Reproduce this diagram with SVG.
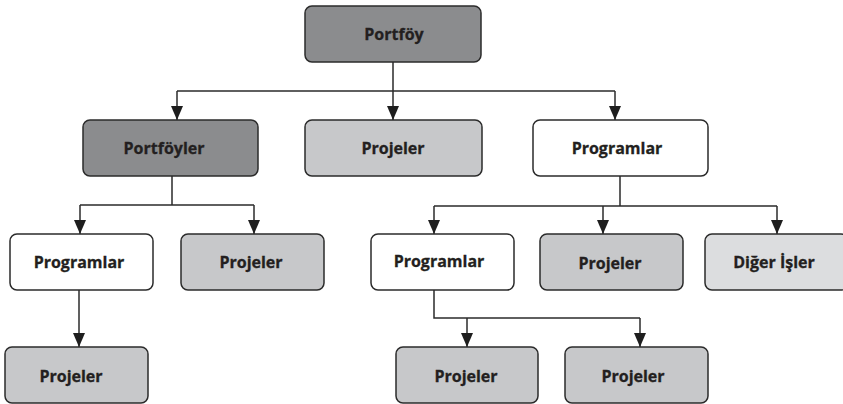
<svg xmlns="http://www.w3.org/2000/svg" width="843" height="404" viewBox="0 0 843 404">
  <style>
    .box { stroke: #2b2b2b; stroke-width: 1.5; }
    .dark { fill: #8b8c8e; }
    .light { fill: #c7c8ca; }
    .pale { fill: #dcdddf; }
    .white { fill: #ffffff; }
    .label { font-family: "Open Sans", "Liberation Sans", sans-serif; font-weight: bold; font-size: 16px; fill: #231f20; stroke: #231f20; stroke-width: 0.3; text-anchor: middle; dominant-baseline: central; }
    .wire { fill: none; stroke: #2b2b2b; stroke-width: 1.5; }
    .arrow { marker-end: url(#head); }
  </style>
  <defs>
    <!-- filled triangular arrowhead, tip on the end of the line -->
    <marker id="head" markerUnits="userSpaceOnUse" markerWidth="14" markerHeight="12" refX="14" refY="6" orient="auto" viewBox="0 0 14 12">
      <path d="M0,0 L14,6 L0,12 Z" fill="#1e1e1e"/>
    </marker>
  </defs>

  <g id="connectors">
    <path class="wire" d="M393,62 V91 M177,91 H615"/>
    <path class="wire arrow" d="M177,91 V120"/>
    <path class="wire arrow" d="M393,91 V120"/>
    <path class="wire arrow" d="M615,91 V120"/>

    <path class="wire" d="M172,176 V205 M80,205 H254"/>
    <path class="wire arrow" d="M80,205 V234"/>
    <path class="wire arrow" d="M254,205 V234"/>

    <path class="wire" d="M620,176 V206 M434,206 H777"/>
    <path class="wire arrow" d="M434,206 V234"/>
    <path class="wire arrow" d="M603,206 V234"/>
    <path class="wire arrow" d="M777,206 V234"/>

    <path class="wire arrow" d="M79,290 V347"/>

    <path class="wire" d="M434,290 V318 H640"/>
    <path class="wire arrow" d="M467,318 V347"/>
    <path class="wire arrow" d="M640,318 V347"/>
  </g>

  <g id="portfoy">
    <rect class="box dark" x="305" y="6" width="176" height="56" rx="7"/>
    <text class="label" x="394" y="34">Portföy</text>
  </g>

  <g id="portfoyler">
    <rect class="box dark" x="83" y="120" width="175" height="56" rx="7"/>
    <text class="label" x="164" y="148">Portföyler</text>
  </g>
  <g id="projeler-a">
    <rect class="box light" x="305" y="120" width="177" height="56" rx="7"/>
    <text class="label" x="393" y="148">Projeler</text>
  </g>
  <g id="programlar-a">
    <rect class="box white" x="533" y="120" width="175" height="56" rx="7"/>
    <text class="label" x="617" y="148">Programlar</text>
  </g>

  <g id="programlar-b">
    <rect class="box white" x="10" y="234" width="143" height="56" rx="7"/>
    <text class="label" x="79" y="262">Programlar</text>
  </g>
  <g id="projeler-b">
    <rect class="box light" x="181" y="234" width="143" height="56" rx="7"/>
    <text class="label" x="251" y="262">Projeler</text>
  </g>
  <g id="programlar-c">
    <rect class="box white" x="371" y="234" width="143" height="56" rx="7"/>
    <text class="label" x="439" y="261">Programlar</text>
  </g>
  <g id="projeler-c">
    <rect class="box light" x="540" y="234" width="143" height="56" rx="7"/>
    <text class="label" x="610" y="263">Projeler</text>
  </g>
  <g id="diger-isler">
    <rect class="box pale" x="705" y="234" width="143" height="56" rx="7"/>
    <text class="label" x="774" y="262">Diğer İşler</text>
  </g>

  <g id="projeler-d">
    <rect class="box light" x="5" y="347" width="143" height="56" rx="7"/>
    <text class="label" x="71" y="376">Projeler</text>
  </g>
  <g id="projeler-e">
    <rect class="box light" x="396" y="347" width="142" height="56" rx="7"/>
    <text class="label" x="466" y="376">Projeler</text>
  </g>
  <g id="projeler-f">
    <rect class="box light" x="565" y="347" width="143" height="56" rx="7"/>
    <text class="label" x="633" y="376">Projeler</text>
  </g>
</svg>
